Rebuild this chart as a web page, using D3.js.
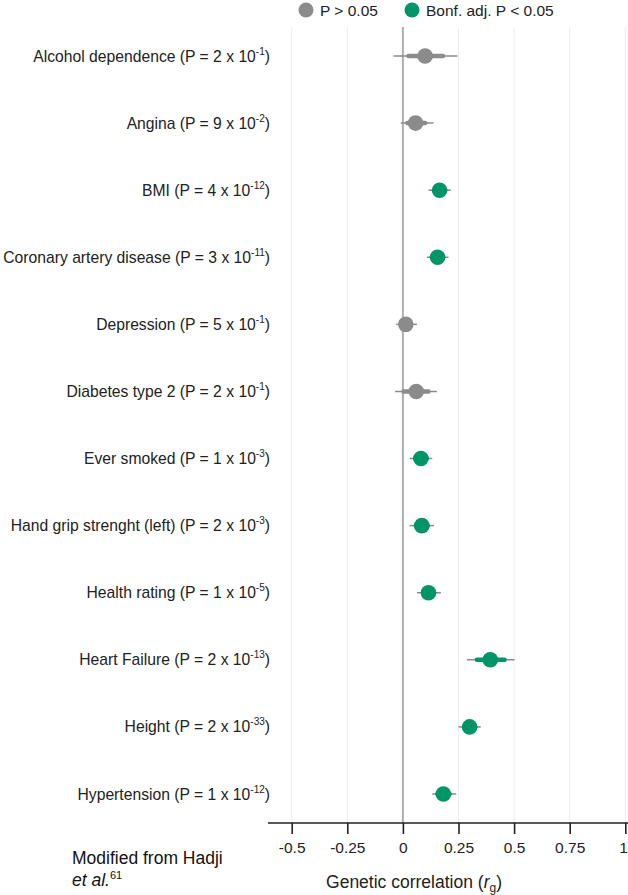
<!DOCTYPE html>
<html>
<head>
<meta charset="utf-8">
<script src="https://cdn.jsdelivr.net/npm/d3@7"></script>
<style>
  body { margin: 0; background: #fff; }
  text { font-family: "Liberation Sans", Arial, sans-serif; fill: #222; }
</style>
</head>
<body>
<div id="chart"></div>
<script>
// traits and P values (mantissa x 10^exponent)
const traits = ["Alcohol dependence", "Angina", "BMI", "Coronary artery disease", "Depression",
  "Diabetes type 2", "Ever smoked", "Hand grip strenght (left)", "Health rating",
  "Heart Failure", "Height", "Hypertension"];
const pMantissa = [2, 9, 4, 3, 5, 2, 1, 2, 1, 2, 2, 1];
const pExponent = [-1, -2, -12, -11, -1, -1, -3, -3, -5, -13, -33, -12];
const significant = [false, false, true, true, false, false, true, true, true, true, true, true];

// genetic correlation with 95% CI (thin) and inner interval (thick)
const rg     = [0.10, 0.057, 0.165, 0.156, 0.013, 0.06, 0.081, 0.085, 0.115, 0.393, 0.30, 0.182];
const ciLow  = [-0.042, -0.01, 0.115, 0.108, -0.03, -0.035, 0.03, 0.03, 0.063, 0.288, 0.25, 0.132];
const ciHigh = [0.245, 0.138, 0.216, 0.205, 0.063, 0.153, 0.132, 0.14, 0.171, 0.502, 0.35, 0.24];
const inLow  = [0.025, 0.02, 0.14, 0.13, -0.005, 0.003, 0.055, 0.058, 0.09, 0.333, 0.275, 0.155];
const inHigh = [0.18, 0.10, 0.19, 0.18, 0.035, 0.115, 0.107, 0.112, 0.14, 0.457, 0.325, 0.21];

const xTicks = [-0.5, -0.25, 0, 0.25, 0.5, 0.75, 1];
const xTickLabels = ["-0.5", "-0.25", "0", "0.25", "0.5", "0.75", "1"];

const legendItems = ["P > 0.05", "Bonf. adj. P < 0.05"];

const width = 628, height = 895;
const grey = "#8b8b8b", green = "#009567";

const data = traits.map((t, i) => ({
  trait: t, m: pMantissa[i], e: pExponent[i], sig: significant[i],
  rg: rg[i], lo: ciLow[i], hi: ciHigh[i], ilo: inLow[i], ihi: inHigh[i]
}));

const svg = d3.select("#chart").append("svg")
  .attr("width", width)
  .attr("height", height);

const x = d3.scaleLinear().domain([-0.5, 1]).range([291.7, 625.3]);
const y = d3.scalePoint().domain(traits).range([56, 794]);

const axisY = 823;
const plotTop = 27;

// grid lines
svg.append("g")
  .selectAll("line")
  .data(xTicks.filter(d => d !== 0))
  .join("line")
  .attr("x1", d => x(d)).attr("x2", d => x(d))
  .attr("y1", plotTop).attr("y2", axisY)
  .attr("stroke", "#ececec")
  .attr("stroke-width", 1);

// zero line
svg.append("line")
  .attr("x1", x(0)).attr("x2", x(0))
  .attr("y1", plotTop).attr("y2", axisY)
  .attr("stroke", "#adadad")
  .attr("stroke-width", 2);

// x axis
const xAxis = svg.append("g")
  .attr("transform", `translate(0,${axisY})`)
  .call(d3.axisBottom(x).tickValues(xTicks).tickFormat((d, i) => xTickLabels[i]).tickSize(11).tickPadding(8));
xAxis.select(".domain").remove();
xAxis.append("line")
  .attr("x1", 268).attr("x2", width)
  .attr("stroke", "#222").attr("stroke-width", 1.6);
xAxis.selectAll(".tick line").attr("stroke", "#222").attr("stroke-width", 1.6);
xAxis.selectAll(".tick text")
  .style("font-family", "'Liberation Sans', Arial, sans-serif")
  .style("font-size", "15.5px")
  .attr("fill", "#222");
// keep the last label inside the picture
xAxis.selectAll(".tick text").filter(d => d === 1)
  .attr("text-anchor", "end")
  .attr("x", 2);

// axis title
const title = svg.append("text")
  .attr("x", x(0.05))
  .attr("y", 888)
  .attr("text-anchor", "middle")
  .style("font-size", "17.5px");
title.append("tspan").text("Genetic correlation (");
title.append("tspan").style("font-style", "italic").text("r");
title.append("tspan").attr("dy", 4).style("font-size", "12px").text("g");
title.append("tspan").attr("dy", -4).text(")");

// rows
const rows = svg.append("g")
  .selectAll("g")
  .data(data)
  .join("g")
  .attr("transform", d => `translate(0,${y(d.trait)})`);

rows.append("line")
  .attr("x1", d => x(d.lo)).attr("x2", d => x(d.hi))
  .attr("stroke", grey)
  .attr("stroke-width", 1.5);

rows.append("line")
  .attr("x1", d => x(d.ilo)).attr("x2", d => x(d.ihi))
  .attr("stroke", d => d.sig ? green : grey)
  .attr("stroke-width", 4.5)
  .attr("stroke-linecap", "round");

rows.append("circle")
  .attr("cx", d => x(d.rg))
  .attr("r", 7.8)
  .attr("fill", d => d.sig ? green : grey);

const lab = rows.append("text")
  .attr("x", 270)
  .attr("y", 5.5)
  .attr("text-anchor", "end")
  .style("font-size", "15.7px");
lab.append("tspan").text(d => `${d.trait} (P = ${d.m} x 10`);
lab.append("tspan").attr("dy", -7).style("font-size", "10px").text(d => d.e);
lab.append("tspan").attr("dy", 7).text(")");

// legend
const legend = svg.append("g")
  .selectAll("g")
  .data(legendItems)
  .join("g")
  .attr("transform", (d, i) => `translate(${i === 0 ? 306 : 412},10)`);
legend.append("circle")
  .attr("r", 7.5)
  .attr("fill", (d, i) => i === 0 ? grey : green);
legend.append("text")
  .attr("x", 14)
  .attr("y", 5.5)
  .style("font-size", "15.5px")
  .text(d => d);

// source note
const note = svg.append("text")
  .attr("x", 72)
  .attr("y", 864)
  .style("font-size", "17.5px")
  .style("fill", "#111");
note.append("tspan").text("Modified from Hadji");
const note2 = svg.append("text")
  .attr("x", 72)
  .attr("y", 886)
  .style("font-size", "17.5px")
  .style("fill", "#111");
note2.append("tspan").style("font-style", "italic").text("et al.");
note2.append("tspan").attr("dy", -7).style("font-size", "11px").text("61");
</script>
</body>
</html>
